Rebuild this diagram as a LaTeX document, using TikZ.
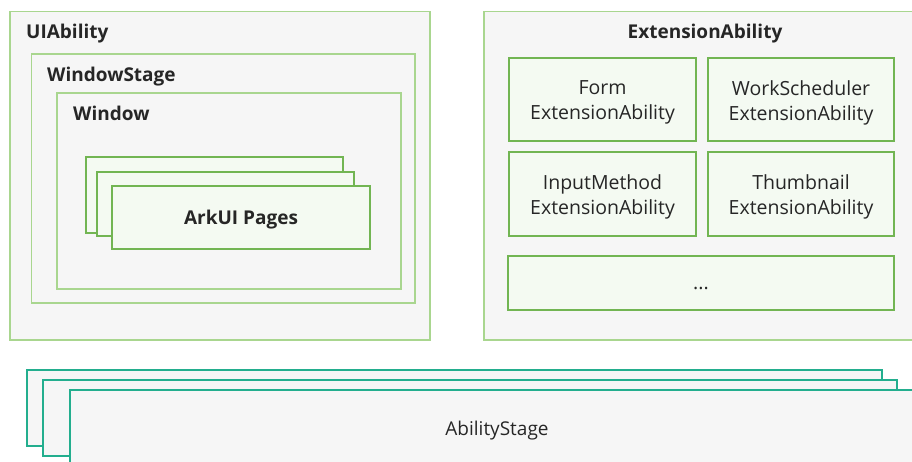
\documentclass[tikz,border=0pt]{standalone}
\usepackage{fontspec}
\setmainfont{Open Sans}
\definecolor{bgfill}{HTML}{F6F6F6}
\definecolor{lightgreen}{HTML}{A9D68F}
\definecolor{midgreen}{HTML}{72B553}
\definecolor{palegreen}{HTML}{F4FAF2}
\definecolor{teal}{HTML}{23AE8E}
\definecolor{txt}{HTML}{262626}
\begin{document}
\begin{tikzpicture}[x=1pt,y=-1pt,
  outerbox/.style={draw=lightgreen,line width=1.6pt,fill=bgfill},
  innerbox/.style={draw=midgreen,line width=1.8pt,fill=palegreen},
  stagebox/.style={draw=teal,line width=1.8pt,fill=bgfill},
  title/.style={font=\fontsize{19}{22}\selectfont\bfseries,text=txt,anchor=base west,inner sep=0pt},
  label/.style={font=\fontsize{19.5}{25}\selectfont,text=txt,align=center}]
\useasboundingbox (0,0) rectangle (912,461);
% UIAbility
\draw[outerbox] (10,11.5) rectangle (430,340);
\node[title] (tui) at (26,38) {UIAbility};
\draw[outerbox] (31.5,54) rectangle (415,303);
\node[title] (tws) at (47,81) {WindowStage};
\draw[outerbox] (57,93) rectangle (401,289);
\node[title] (twin) at (73,120) {Window};
\draw[innerbox] (86,157) rectangle (343,233);
\draw[innerbox] (97,172) rectangle (354,236);
\draw[innerbox] (112,186) rectangle (370,249);
\node[font=\fontsize{19}{22}\selectfont\bfseries,text=txt] (ark) at (241,220) {ArkUI Pages};
% ExtensionAbility
\draw[outerbox] (484,11.5) rectangle (925,340);
\node[font=\fontsize{19}{22}\selectfont\bfseries,text=txt] (text) at (705,34) {ExtensionAbility};
\node[innerbox,minimum width=187pt,minimum height=83pt] (form) at (602.5,99.5) {};
\node[label] (formt) at ([yshift=-3pt]form.center) {Form\\ExtensionAbility};
\node[innerbox,minimum width=186pt,minimum height=83pt] (work) at (801,99.5) {};
\node[label] (workt) at ([yshift=-3pt]work.center) {WorkScheduler\\ExtensionAbility};
\node[innerbox,minimum width=187pt,minimum height=84pt] (input) at (602.5,194) {};
\node[label] (inputt) at ([yshift=-3pt]input.center) {InputMethod\\ExtensionAbility};
\node[innerbox,minimum width=186pt,minimum height=84pt] (thumb) at (801,194) {};
\node[label] (thumbt) at ([yshift=-3pt]thumb.center) {Thumbnail\\ExtensionAbility};
\node[innerbox,minimum width=386pt,minimum height=54pt] (dots) at (701,283) {};
\node[label] (dotst) at ([yshift=-5pt]dots.center) {...};
% AbilityStage
\draw[stagebox] (27,370) rectangle (882,446);
\draw[stagebox] (43,380) rectangle (897,456);
\draw[stagebox] (70,390) rectangle (930,480);
\node[font=\fontsize{19}{22}\selectfont,text=txt] (stage) at (497,431) {AbilityStage};
\end{tikzpicture}
\end{document}
